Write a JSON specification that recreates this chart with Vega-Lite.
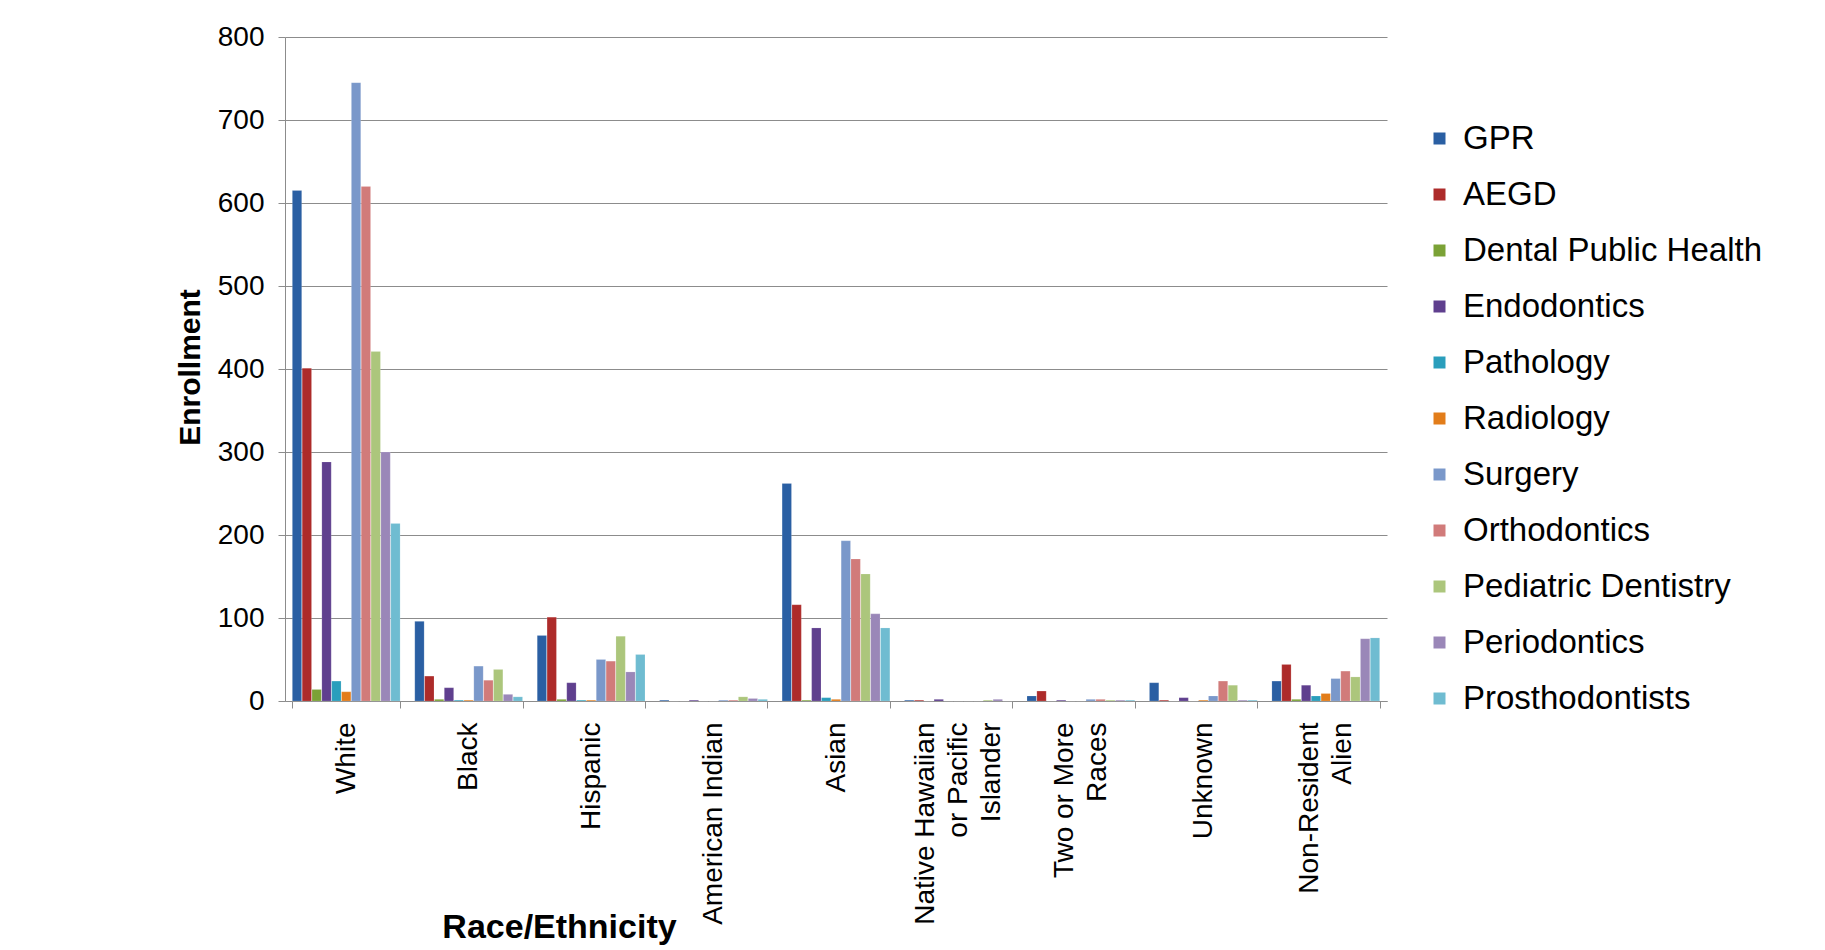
{
  "$schema": "https://vega.github.io/schema/vega-lite/v6.json",
  "width": 1102,
  "height": 664,
  "autosize": {"type": "none"},
  "padding": {"left": 285, "top": 37, "right": 438, "bottom": 249},
  "background": "white",
  "config": {
    "font": "Liberation Sans",
    "view": {"stroke": null},
    "axis": {
      "domainColor": "#8c8c8c",
      "tickColor": "#8c8c8c",
      "gridColor": "#8c8c8c",
      "labelColor": "black",
      "titleColor": "black",
      "labelFont": "Liberation Sans",
      "labelFontSize": 28,
      "tickSize": 7
    }
  },
  "data": {
    "values": [
      {"race": "White", "program": "GPR", "enrollment": 615},
      {"race": "White", "program": "AEGD", "enrollment": 401},
      {"race": "White", "program": "Dental Public Health", "enrollment": 14},
      {"race": "White", "program": "Endodontics", "enrollment": 288},
      {"race": "White", "program": "Pathology", "enrollment": 24},
      {"race": "White", "program": "Radiology", "enrollment": 11},
      {"race": "White", "program": "Surgery", "enrollment": 745},
      {"race": "White", "program": "Orthodontics", "enrollment": 620},
      {"race": "White", "program": "Pediatric Dentistry", "enrollment": 421},
      {"race": "White", "program": "Periodontics", "enrollment": 300},
      {"race": "White", "program": "Prosthodontists", "enrollment": 214},
      {"race": "Black", "program": "GPR", "enrollment": 96},
      {"race": "Black", "program": "AEGD", "enrollment": 30},
      {"race": "Black", "program": "Dental Public Health", "enrollment": 2},
      {"race": "Black", "program": "Endodontics", "enrollment": 16},
      {"race": "Black", "program": "Pathology", "enrollment": 1},
      {"race": "Black", "program": "Radiology", "enrollment": 1},
      {"race": "Black", "program": "Surgery", "enrollment": 42},
      {"race": "Black", "program": "Orthodontics", "enrollment": 25},
      {"race": "Black", "program": "Pediatric Dentistry", "enrollment": 38},
      {"race": "Black", "program": "Periodontics", "enrollment": 8},
      {"race": "Black", "program": "Prosthodontists", "enrollment": 5},
      {"race": "Hispanic", "program": "GPR", "enrollment": 79},
      {"race": "Hispanic", "program": "AEGD", "enrollment": 101},
      {"race": "Hispanic", "program": "Dental Public Health", "enrollment": 2},
      {"race": "Hispanic", "program": "Endodontics", "enrollment": 22},
      {"race": "Hispanic", "program": "Pathology", "enrollment": 1},
      {"race": "Hispanic", "program": "Radiology", "enrollment": 1},
      {"race": "Hispanic", "program": "Surgery", "enrollment": 50},
      {"race": "Hispanic", "program": "Orthodontics", "enrollment": 48},
      {"race": "Hispanic", "program": "Pediatric Dentistry", "enrollment": 78},
      {"race": "Hispanic", "program": "Periodontics", "enrollment": 35},
      {"race": "Hispanic", "program": "Prosthodontists", "enrollment": 56},
      {"race": "American Indian", "program": "GPR", "enrollment": 1},
      {"race": "American Indian", "program": "AEGD", "enrollment": 0},
      {"race": "American Indian", "program": "Dental Public Health", "enrollment": 0},
      {"race": "American Indian", "program": "Endodontics", "enrollment": 1},
      {"race": "American Indian", "program": "Pathology", "enrollment": 0},
      {"race": "American Indian", "program": "Radiology", "enrollment": 0},
      {"race": "American Indian", "program": "Surgery", "enrollment": 1},
      {"race": "American Indian", "program": "Orthodontics", "enrollment": 1},
      {"race": "American Indian", "program": "Pediatric Dentistry", "enrollment": 5},
      {"race": "American Indian", "program": "Periodontics", "enrollment": 3},
      {"race": "American Indian", "program": "Prosthodontists", "enrollment": 2},
      {"race": "Asian", "program": "GPR", "enrollment": 262},
      {"race": "Asian", "program": "AEGD", "enrollment": 116},
      {"race": "Asian", "program": "Dental Public Health", "enrollment": 1},
      {"race": "Asian", "program": "Endodontics", "enrollment": 88},
      {"race": "Asian", "program": "Pathology", "enrollment": 4},
      {"race": "Asian", "program": "Radiology", "enrollment": 2},
      {"race": "Asian", "program": "Surgery", "enrollment": 193},
      {"race": "Asian", "program": "Orthodontics", "enrollment": 171},
      {"race": "Asian", "program": "Pediatric Dentistry", "enrollment": 153},
      {"race": "Asian", "program": "Periodontics", "enrollment": 105},
      {"race": "Asian", "program": "Prosthodontists", "enrollment": 88},
      {"race": "Native Hawaiian or Pacific Islander", "program": "GPR", "enrollment": 1},
      {"race": "Native Hawaiian or Pacific Islander", "program": "AEGD", "enrollment": 1},
      {"race": "Native Hawaiian or Pacific Islander", "program": "Dental Public Health", "enrollment": 0},
      {"race": "Native Hawaiian or Pacific Islander", "program": "Endodontics", "enrollment": 2},
      {"race": "Native Hawaiian or Pacific Islander", "program": "Pathology", "enrollment": 0},
      {"race": "Native Hawaiian or Pacific Islander", "program": "Radiology", "enrollment": 0},
      {"race": "Native Hawaiian or Pacific Islander", "program": "Surgery", "enrollment": 0},
      {"race": "Native Hawaiian or Pacific Islander", "program": "Orthodontics", "enrollment": 0},
      {"race": "Native Hawaiian or Pacific Islander", "program": "Pediatric Dentistry", "enrollment": 1},
      {"race": "Native Hawaiian or Pacific Islander", "program": "Periodontics", "enrollment": 2},
      {"race": "Native Hawaiian or Pacific Islander", "program": "Prosthodontists", "enrollment": 0},
      {"race": "Two or More Races", "program": "GPR", "enrollment": 6},
      {"race": "Two or More Races", "program": "AEGD", "enrollment": 12},
      {"race": "Two or More Races", "program": "Dental Public Health", "enrollment": 0},
      {"race": "Two or More Races", "program": "Endodontics", "enrollment": 1},
      {"race": "Two or More Races", "program": "Pathology", "enrollment": 0},
      {"race": "Two or More Races", "program": "Radiology", "enrollment": 0},
      {"race": "Two or More Races", "program": "Surgery", "enrollment": 2},
      {"race": "Two or More Races", "program": "Orthodontics", "enrollment": 2},
      {"race": "Two or More Races", "program": "Pediatric Dentistry", "enrollment": 1},
      {"race": "Two or More Races", "program": "Periodontics", "enrollment": 1},
      {"race": "Two or More Races", "program": "Prosthodontists", "enrollment": 1},
      {"race": "Unknown", "program": "GPR", "enrollment": 22},
      {"race": "Unknown", "program": "AEGD", "enrollment": 1},
      {"race": "Unknown", "program": "Dental Public Health", "enrollment": 0},
      {"race": "Unknown", "program": "Endodontics", "enrollment": 4},
      {"race": "Unknown", "program": "Pathology", "enrollment": 0},
      {"race": "Unknown", "program": "Radiology", "enrollment": 1},
      {"race": "Unknown", "program": "Surgery", "enrollment": 6},
      {"race": "Unknown", "program": "Orthodontics", "enrollment": 24},
      {"race": "Unknown", "program": "Pediatric Dentistry", "enrollment": 19},
      {"race": "Unknown", "program": "Periodontics", "enrollment": 1},
      {"race": "Unknown", "program": "Prosthodontists", "enrollment": 1},
      {"race": "Non-Resident Alien", "program": "GPR", "enrollment": 24},
      {"race": "Non-Resident Alien", "program": "AEGD", "enrollment": 44},
      {"race": "Non-Resident Alien", "program": "Dental Public Health", "enrollment": 2},
      {"race": "Non-Resident Alien", "program": "Endodontics", "enrollment": 19},
      {"race": "Non-Resident Alien", "program": "Pathology", "enrollment": 6},
      {"race": "Non-Resident Alien", "program": "Radiology", "enrollment": 9},
      {"race": "Non-Resident Alien", "program": "Surgery", "enrollment": 27},
      {"race": "Non-Resident Alien", "program": "Orthodontics", "enrollment": 36},
      {"race": "Non-Resident Alien", "program": "Pediatric Dentistry", "enrollment": 29},
      {"race": "Non-Resident Alien", "program": "Periodontics", "enrollment": 75},
      {"race": "Non-Resident Alien", "program": "Prosthodontists", "enrollment": 76}
    ]
  },
  "mark": {"type": "bar", "stroke": "#ffffff", "strokeOpacity": 0.3, "strokeWidth": 0.5},
  "encoding": {
    "x": {
      "field": "race",
      "type": "nominal",
      "sort": ["White", "Black", "Hispanic", "American Indian", "Asian", "Native Hawaiian or Pacific Islander", "Two or More Races", "Unknown", "Non-Resident Alien"],
      "scale": {"paddingInner": 0.12, "paddingOuter": 0.06},
      "axis": {
        "title": "Race/Ethnicity",
        "titleFont": "Liberation Sans",
        "titleFontSize": 34,
        "titleFontWeight": "bold",
        "titleX": 274,
        "titleY": 226,
        "titleAlign": "center",
        "titleBaseline": "middle",
        "labelAngle": -90,
        "labelAlign": "right",
        "labelBaseline": "middle",
        "labelPadding": 14,
        "labelLineHeight": 33,
        "labelLimit": 400,
        "labelOffset": {
          "condition": [
            {"test": "datum.value == 'Native Hawaiian or Pacific Islander'", "value": -33},
            {"test": "datum.value == 'Two or More Races' || datum.value == 'Non-Resident Alien'", "value": -16}
          ],
          "value": 0
        },
        "tickBand": "extent",
        "labelExpr": "datum.label == 'Native Hawaiian or Pacific Islander' ? ['Native Hawaiian', 'or Pacific', 'Islander'] : datum.label == 'Two or More Races' ? ['Two or More', 'Races'] : datum.label == 'Non-Resident Alien' ? ['Non-Resident', 'Alien'] : datum.label"
      }
    },
    "xOffset": {
      "field": "program",
      "sort": ["GPR", "AEGD", "Dental Public Health", "Endodontics", "Pathology", "Radiology", "Surgery", "Orthodontics", "Pediatric Dentistry", "Periodontics", "Prosthodontists"],
      "scale": {"paddingInner": 0.05}
    },
    "y": {
      "field": "enrollment",
      "type": "quantitative",
      "scale": {"domain": [0, 800], "nice": false},
      "axis": {
        "title": "Enrollment",
        "titleFontSize": 30,
        "titleFontWeight": "bold",
        "titleX": -95,
        "titleY": 330,
        "titleAngle": -90,
        "titleAlign": "center",
        "titleBaseline": "middle",
        "values": [0, 100, 200, 300, 400, 500, 600, 700, 800],
        "labelPadding": 14,
        "grid": true,
        "gridWidth": 1.2
      }
    },
    "color": {
      "field": "program",
      "type": "nominal",
      "scale": {
        "domain": ["GPR", "AEGD", "Dental Public Health", "Endodontics", "Pathology", "Radiology", "Surgery", "Orthodontics", "Pediatric Dentistry", "Periodontics", "Prosthodontists"],
        "range": ["#2a5fa3", "#ad2b2a", "#7ba236", "#5f3f8e", "#2a9ebc", "#e27d1a", "#7a98ca", "#d17b7a", "#acc67c", "#9a87b8", "#6fbcd1"]
      },
      "legend": {
        "title": null,
        "orient": "none",
        "legendX": 1138,
        "legendY": 85,
        "symbolType": "square",
        "symbolSize": 144,
        "symbolStrokeWidth": 0,
        "labelFontSize": 33,
        "labelColor": "black",
        "labelOffset": 7,
        "rowPadding": 22,
        "labelLimit": 450
      }
    }
  }
}
